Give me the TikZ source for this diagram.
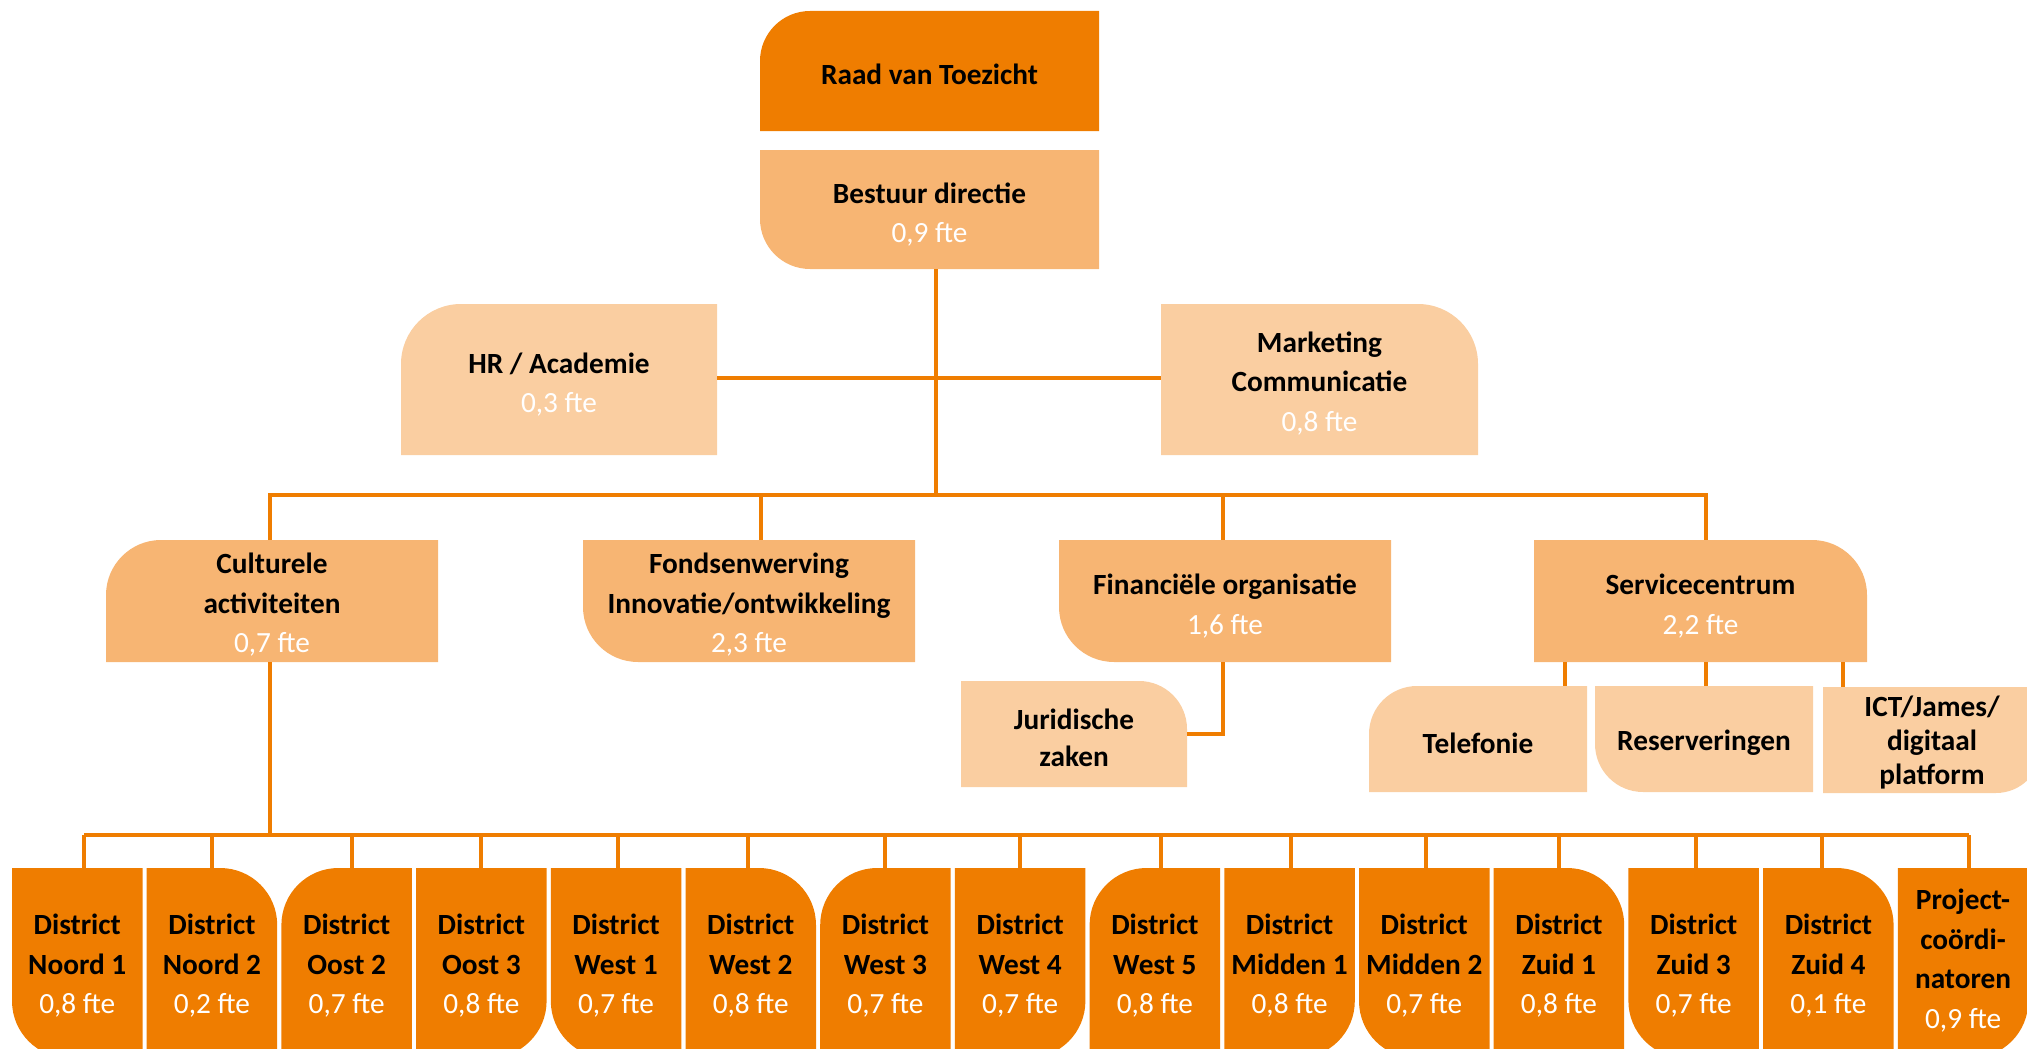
\documentclass[tikz,border=0pt]{standalone}
\usepackage{fontspec}
\setmainfont{Carlito}
\usetikzlibrary{calc}
\definecolor{cdark}{RGB}{239,125,0}
\definecolor{cmid}{RGB}{247,181,115}
\definecolor{clight}{RGB}{250,206,161}
\pgfdeclarelayer{bg}
\pgfsetlayers{bg,main}
\newcommand\ftel[1]{{\mdseries\color{white}#1 fte}}
% boxes with one rounded corner: #1 node, #2 colour, #3 radius (pt)
\newcommand\boxTL[3]{\fill[#2] (#1.south west) -- ([yshift=-#3pt]#1.north west)
  .. controls +(0pt,{0.5523*#3pt}) and +({-0.5523*#3pt},0pt) .. ([xshift=#3pt]#1.north west)
  -- (#1.north east) -- (#1.south east) -- cycle;}
\newcommand\boxTR[3]{\fill[#2] (#1.south east) -- ([yshift=-#3pt]#1.north east)
  .. controls +(0pt,{0.5523*#3pt}) and +({0.5523*#3pt},0pt) .. ([xshift=-#3pt]#1.north east)
  -- (#1.north west) -- (#1.south west) -- cycle;}
\newcommand\boxBL[3]{\fill[#2] (#1.north west) -- ([yshift=#3pt]#1.south west)
  .. controls +(0pt,{-0.5523*#3pt}) and +({-0.5523*#3pt},0pt) .. ([xshift=#3pt]#1.south west)
  -- (#1.south east) -- (#1.north east) -- cycle;}
\newcommand\boxBR[3]{\fill[#2] (#1.north east) -- ([yshift=#3pt]#1.south east)
  .. controls +(0pt,{-0.5523*#3pt}) and +({0.5523*#3pt},0pt) .. ([xshift=-#3pt]#1.south east)
  -- (#1.south west) -- (#1.north west) -- cycle;}
\tikzset{
  bx/.style={inner sep=0pt, outer sep=0pt},
  tx/.style={inner sep=0pt, align=center, text=black,
    font=\bfseries\fontsize{29.3}{39.5}\selectfont},
  ln/.style={draw=cdark, line width=4pt, line join=miter},
}
\begin{document}
\begin{tikzpicture}[x=1pt,y=-1pt]
\useasboundingbox (0,0) rectangle (2027,1049);
% level 1-2
\node[bx, minimum width=339pt, minimum height=120pt] (raad) at (929.5,71) {};
\node[tx] (raad-t) at ([yshift=-3pt]raad.center) {Raad van Toezicht};
\node[bx, minimum width=339pt, minimum height=119pt] (best) at (929.5,209.5) {};
\node[tx] (best-t) at ([yshift=-5pt]best.center) {Bestuur directie\\\ftel{0,9}};
\node[bx, minimum width=316pt, minimum height=151pt] (hr) at (559,379.5) {};
\node[tx] (hr-t) at ([yshift=-5pt]hr.center) {HR / Academie\\\ftel{0,3}};
\node[bx, minimum width=317pt, minimum height=151pt] (mkt) at (1319.5,379.5) {};
\node[tx] (mkt-t) at ([yshift=-4pt]mkt.center) {Marketing\\Communicatie\\\ftel{0,8}};
% level 3
\node[bx, minimum width=332pt, minimum height=122pt] (cul) at (272,601) {};
\node[tx] (cul-t) at ([yshift=-4pt]cul.center) {Culturele\\activiteiten\\\ftel{0,7}};
\node[bx, minimum width=332pt, minimum height=122pt] (fon) at (749,601) {};
\node[tx] (fon-t) at ([yshift=-4pt]fon.center) {Fondsenwerving\\Innovatie/ontwikkeling\\\ftel{2,3}};
\node[bx, minimum width=332pt, minimum height=122pt] (fin) at (1225,601) {};
\node[tx] (fin-t) at ([yshift=-5pt]fin.center) {Financiële organisatie\\\ftel{1,6}};
\node[bx, minimum width=333pt, minimum height=122pt] (svc) at (1700.5,601) {};
\node[tx] (svc-t) at ([yshift=-5pt]svc.center) {Servicecentrum\\\ftel{2,2}};
% level 4
\node[bx, minimum width=226pt, minimum height=106pt] (jur) at (1074,734) {};
\node[tx, font=\bfseries\fontsize{29.3}{37}\selectfont] (jur-t) at ([yshift=-4pt]jur.center) {Juridische\\zaken};
\node[bx, minimum width=218pt, minimum height=106pt] (tel) at (1478,739) {};
\node[tx] (tel-t) at ([yshift=-4pt]tel.center) {Telefonie};
\node[bx, minimum width=218pt, minimum height=106pt] (res) at (1704,739) {};
\node[tx] (res-t) at ([yshift=-4pt]res.center) {Reserveringen};
\node[bx, minimum width=218pt, minimum height=106pt] (ict) at (1932,740) {};
\node[tx, font=\bfseries\fontsize{29.3}{34}\selectfont] (ict-t) at ([yshift=-3pt]ict.center) {ICT/James/\\digitaal\\platform};
% bus coordinates
\coordinate (bus1) at (0,495);
\coordinate (bus2) at (0,835);
\coordinate (hb) at (0,378);
\coordinate (dbest) at (936,0);
\coordinate (dcul) at (270,0);
\coordinate (dfon) at (761,0);
\coordinate (dfin) at (1223,0);
\coordinate (dsvc) at (1706,0);
\coordinate (dtel) at (1565,0);
\coordinate (dres) at (1706,0);
\coordinate (dict) at (1843,0);
\begin{pgfonlayer}{bg}
  \boxTL{raad}{cdark}{50}
  \boxBL{best}{cmid}{50}
  \boxTL{hr}{clight}{60}
  \boxTR{mkt}{clight}{60}
  \boxTL{cul}{cmid}{55}
  \boxBL{fon}{cmid}{55}
  \boxBL{fin}{cmid}{55}
  \boxTR{svc}{cmid}{55}
  \boxTR{jur}{clight}{48}
  \boxTL{tel}{clight}{48}
  \boxBL{res}{clight}{48}
  \boxBR{ict}{clight}{45}
  % connectors
  \draw[ln] (best.south -| dbest) -- (dbest |- bus1);
  \draw[ln] (hr.east |- hb) -- (mkt.west |- hb);
  \draw[ln] (cul.north -| dcul) -- (dcul |- bus1) -- (dsvc |- bus1) -- (svc.north -| dsvc);
  \draw[ln] (dfon |- bus1) -- (fon.north -| dfon);
  \draw[ln] (dfin |- bus1) -- (fin.north -| dfin);
  \draw[ln] (fin.south -| dfin) |- (jur.east);
  \draw[ln] (svc.south -| dtel) -- (tel.north -| dtel);
  \draw[ln] (svc.south -| dres) -- (res.north -| dres);
  \draw[ln] (svc.south -| dict) -- (ict.north -| dict);
  \draw[ln] (cul.south -| dcul) -- (dcul |- bus2);
\end{pgfonlayer}
% bottom row
\foreach \i/\nm/\f/\cor/\ds in {
  0/Noord 1/{0,8}/BL/7, 1/Noord 2/{0,2}/TR/0, 2/Oost 2/{0,7}/TL/5, 3/Oost 3/{0,8}/BR/0,
  4/West 1/{0,7}/BL/2, 5/West 2/{0,8}/TR/-3, 6/West 3/{0,7}/TL/0, 7/West 4/{0,7}/BR/0,
  8/West 5/{0,8}/TL/6, 9/Midden 1/{0,8}/BR/1, 10/Midden 2/{0,7}/BL/2, 11/Zuid 1/{0,8}/TR/0,
  12/Zuid 3/{0,7}/BL/2, 13/Zuid 4/{0,1}/TR/-6}{
  \node[bx, minimum width=130.5pt, minimum height=190pt] (n\i) at ({77.25+134.7*\i},963) {};
  \node[tx] (n\i-t) at ([yshift=-3pt]n\i.center) {District\\\nm\\\ftel{\f}};
  \coordinate (d\i) at ($(n\i.north)+(\ds pt,0pt)$);
  \begin{pgfonlayer}{bg}
    \csname box\cor\endcsname{n\i}{cdark}{57}
    \draw[ln] (d\i) -- (d\i |- bus2);
  \end{pgfonlayer}
}
\node[bx, minimum width=130.5pt, minimum height=190pt] (n14) at ({77.25+134.7*14},963) {};
\node[tx] (n14-t) at ([yshift=2.5pt]n14.center) {Project-\\coördi-\\natoren\\\ftel{0,9}};
\coordinate (d14) at ($(n14.north)+(6pt,0pt)$);
\begin{pgfonlayer}{bg}
  \boxBR{n14}{cdark}{57}
  \draw[ln] (d14) -- (d14 |- bus2);
  \draw[ln] (d0 |- bus2) -- (d14 |- bus2);
\end{pgfonlayer}
\end{tikzpicture}
\end{document}
